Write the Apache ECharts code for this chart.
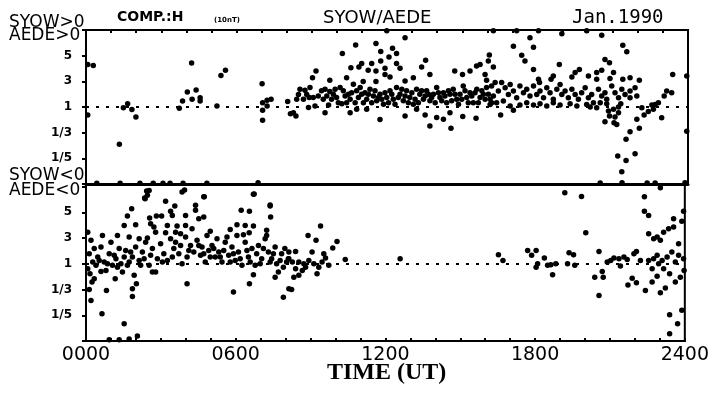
<!DOCTYPE html>
<html>
<head>
<meta charset="utf-8">
<script src="https://cdn.jsdelivr.net/npm/echarts@6/dist/echarts.min.js"></script>
<style>
  html, body { margin: 0; padding: 0; background: #fff; }
  #chart { width: 712px; height: 395px; }
</style>
</head>
<body>
<div id="chart"></div>
<script>
// y level of the ratio scale: 1 -> 0, 3 -> 1, 5 -> 2, 1/3 -> -1, 1/5 -> -2
var ratioLevels = [-2, -1, 0, 1, 2];
var ratioLabels = ['1/5', '1/3', '1', '3', '5'];
var hourLabels = ['0000', '0600', '1200', '1800', '2400'];

// SYOW>0, AEDE>0  [hour UT, ratio level]
var aboveZero = [
  [0.07,1.66],[0.29,1.62],[0.07,-0.31],[1.33,-1.45],[1.49,-0.03],[1.66,0.13],[1.83,-0.10],[1.99,-0.39],
  [3.72,-0.05],[3.85,0.23],[4.04,0.58],[4.23,0.30],[4.21,1.71],[4.39,0.66],[4.55,0.36],[4.55,0.23],
  [5.22,0.04],[5.38,1.23],[5.56,1.43],[7.02,0.91],[7.04,0.17],[7.04,-0.13],[7.04,-0.52],[7.22,0.26],
  [7.38,0.30],[7.22,0.04],[8.04,0.21],[8.15,-0.26],
  [12.72,2.70],[11.56,2.47],[10.75,2.42],[12.22,2.29],[11.75,2.16],[12.38,2.08],[10.22,2.08],[12.08,1.95],
  [13.54,1.82],[11.75,1.79],[12.38,1.69],[11.39,1.69],[10.99,1.69],[16.08,2.03],[16.04,1.79],[10.56,1.53],
  [10.88,1.56],[11.25,1.43],[11.56,1.40],[11.92,1.51],[12.52,1.51],[11.92,1.27],[13.38,1.56],[9.17,1.40],
  [13.71,1.27],[12.12,1.17],[13.05,1.14],[12.72,1.01],[9.72,1.04],[9.03,1.14],[10.39,1.14],[14.70,1.40],
  [15.01,1.27],[15.31,1.40],[15.57,1.60],[15.71,1.66],[15.91,1.27],[15.97,1.04],[11.56,0.99],[11.05,0.99],
  [8.53,0.69],[8.73,0.65],[8.93,0.76],[8.90,0.37],[8.40,0.30],[8.67,0.30],[9.06,0.37],[9.13,0.04],
  [9.39,0.63],[9.53,0.69],[9.72,0.60],[9.86,0.50],[9.99,0.37],[10.13,0.76],[10.26,0.63],[10.46,0.50],
  [10.53,0.30],[10.66,0.89],[10.79,0.63],[10.93,0.76],[10.99,0.50],[11.12,0.56],[11.19,0.30],[11.32,0.69],
  [11.46,0.43],[11.59,0.24],[11.72,0.50],[11.86,0.11],[11.99,0.37],[12.12,0.63],[12.25,0.30],[12.38,0.76],
  [12.52,0.50],[12.65,0.24],[12.78,0.63],[12.91,0.37],[13.05,0.11],[13.18,0.69],[13.31,0.50],[13.45,0.30],
  [13.58,0.63],[13.71,0.24],[13.85,0.50],[13.98,0.76],[14.11,0.37],[14.25,0.56],[14.38,0.17],[14.51,0.50],
  [14.64,0.69],[14.78,0.30],[14.91,0.50],[15.04,0.82],[15.18,0.37],[15.31,0.56],[15.44,0.17],[15.58,0.69],
  [15.71,0.37],[15.84,0.50],[15.97,0.76],[16.11,0.30],[16.24,0.43],
  [8.47,0.49],[8.80,0.49],[9.26,0.43],[9.46,0.30],[9.60,0.43],[9.79,0.30],[9.93,0.69],[10.06,0.17],
  [10.33,0.43],[10.39,0.17],[10.59,0.56],[10.73,0.17],[10.86,0.37],[11.06,0.17],[11.26,0.50],[11.39,0.17],
  [11.52,0.63],[11.66,0.37],[11.79,0.30],[11.92,0.56],[12.06,0.17],[12.19,0.50],[12.32,0.11],[12.45,0.37],
  [12.59,0.69],[12.72,0.43],[12.85,0.17],[12.99,0.56],[13.12,0.30],[13.25,0.17],[13.38,0.63],[13.52,0.43],
  [13.65,0.50],[13.78,0.37],[13.92,0.17],[14.05,0.56],[14.18,0.24],[14.31,0.43],[14.45,0.63],[14.58,0.24],
  [14.71,0.50],[14.85,0.11],[14.98,0.30],[15.11,0.63],[15.24,0.17],[15.38,0.43],[15.51,0.56],[15.64,0.17],
  [15.78,0.63],[15.91,0.30],[16.04,0.50],[16.17,0.17],
  [8.27,-0.22],[8.37,-0.35],[8.87,-0.02],[9.53,-0.22],[9.67,0.08],[10.53,-0.22],[10.79,-0.09],[11.19,-0.09],
  [11.72,-0.49],[12.72,-0.35],[13.18,-0.09],[13.52,-0.31],[13.71,-0.74],[13.98,-0.41],[14.25,-0.48],[14.51,-0.22],
  [14.55,-0.83],[15.02,-0.37],[15.55,-0.44],[10.20,0.13],
  [16.24,2.97],[17.17,2.97],[18.04,2.97],[18.97,2.85],[19.96,2.97],[20.56,2.80],[17.70,2.70],[11.99,2.97],
  [17.04,2.37],[17.84,2.33],[17.37,2.02],[17.50,1.79],[21.40,2.41],[21.56,2.15],[20.69,1.85],[20.87,1.72],
  [18.87,1.66],[16.24,1.56],[17.84,1.46],[19.67,1.46],[19.50,1.34],[20.36,1.34],[20.56,1.43],[21.03,1.34],
  [20.03,1.21],[19.37,1.17],[18.63,1.21],[18.54,1.08],[18.04,1.08],[18.08,0.95],[23.39,1.27],[23.95,1.21],
  [21.69,1.14],[21.40,1.08],[22.06,1.04],[20.89,1.11],[20.36,1.08],
  [16.17,0.82],[16.31,0.95],[16.44,0.62],[16.57,0.95],[16.71,0.75],[16.84,0.49],[16.91,0.88],[17.04,0.62],
  [17.17,0.36],[17.30,0.82],[17.44,0.56],[17.57,0.69],[17.70,0.43],[17.84,0.82],[17.97,0.49],[18.10,0.62],
  [18.24,0.36],[18.37,0.75],[18.50,0.56],[18.63,0.30],[18.77,0.69],[18.90,0.88],[18.97,0.49],[19.10,0.62],
  [19.23,0.36],[19.37,0.69],[19.50,0.49],[19.63,0.30],[19.76,0.56],[19.90,0.75],[20.03,0.36],[20.16,0.49],
  [20.23,0.17],[20.43,0.69],[20.56,0.43],[20.69,0.56],[20.76,0.30],[20.96,0.82],[21.09,0.56],[21.23,0.36],
  [21.36,0.69],[21.49,0.49],[21.69,0.62],[21.89,0.75],[21.96,0.43],[21.69,0.36],
  [16.11,0.10],[16.37,0.17],[16.64,0.23],[16.91,0.04],[17.30,0.08],[17.57,0.17],[17.84,0.08],[18.10,0.13],
  [18.37,0.04],[18.63,0.17],[18.90,0.08],[19.30,0.13],[19.57,0.04],[19.96,0.10],[20.10,0.00],[20.36,-0.03],
  [20.50,0.17],
  [16.53,-0.31],[17.04,-0.13],[20.76,0.13],[20.83,-0.16],[20.87,-0.35],[20.69,-0.57],[21.03,-0.09],[21.09,-0.39],
  [21.05,-0.61],[21.23,0.00],[21.23,-0.22],[21.16,-0.68],[21.32,0.13],[21.53,-1.26],[21.69,-0.96],[22.06,-0.83],
  [21.96,-0.48],[22.16,-0.03],[22.25,-0.31],[22.42,-0.18],[22.62,-0.09],[22.56,0.08],[22.69,0.10],[22.82,0.17],
  [22.95,-0.42],[23.05,0.43],[23.15,0.62],[23.35,0.56],[21.20,-1.91],[21.53,-2.08],[21.89,-1.82],[21.36,-2.52],
  [23.95,-0.94],
  [0.43,-2.97],[1.36,-2.97],[2.15,-2.97],[2.68,-2.97],[3.07,-2.97],[3.35,-2.97],[3.87,-2.97],[4.82,-2.97],
  [6.86,-2.95],[20.50,-2.96],[21.37,-2.95],[22.37,-2.96],[22.69,-2.96],[23.88,-2.95]
];

// SYOW<0, AEDE<0  [hour UT, ratio level]
var belowZero = [
  [2.53,2.85],[3.85,2.79],[2.46,2.66],[2.37,2.53],[3.19,2.43],[3.56,2.25],[4.39,2.27],[4.39,2.08],
  [4.72,2.60],[6.71,2.70],[6.22,2.08],[6.55,2.04],[7.38,2.25],[7.40,1.82],[1.83,2.14],[1.66,1.86],
  [2.55,1.78],[2.82,1.86],[3.03,1.86],[3.39,2.04],[3.46,1.88],[3.99,1.88],[4.52,1.75],[4.72,1.82],
  [1.53,1.49],[1.99,1.52],[2.59,1.56],[2.72,1.43],[3.26,1.49],[3.65,1.47],[3.99,1.49],[4.25,1.36],
  [4.98,1.26],[6.05,1.52],[6.38,1.49],[6.71,1.47],[5.78,1.33],[6.54,1.21],[7.24,1.30],
  [2.43,2.83],[2.35,2.56],[3.95,2.87],[4.74,2.60],[6.74,2.71],[7.38,2.28],
  [0.07,1.23],[0.20,0.91],[0.33,0.59],[0.13,0.39],[0.27,0.07],[0.07,-0.19],[0.47,0.26],[0.60,0.65],
  [0.66,1.10],[0.73,0.07],[0.80,-0.26],[0.93,0.39],[1.00,0.84],[1.06,-0.06],[1.20,0.20],[1.26,1.10],
  [1.33,0.59],[1.40,0.00],[1.46,-0.32],[1.53,0.26],[1.59,0.52],[1.73,0.07],[1.86,0.26],[1.99,0.65],
  [2.13,0.13],[2.26,0.46],[2.39,0.84],[2.53,-0.06],[2.66,0.59],[2.79,-0.32],[2.86,0.20],[2.99,0.78],
  [3.12,0.39],[3.26,0.13],[3.39,0.97],[3.52,0.59],[3.59,0.84],[3.72,0.39],[3.85,0.00],[3.99,1.04],
  [4.05,0.26],[4.19,0.71],[4.32,0.46],[4.45,0.91],[4.59,0.33],[4.65,0.65],[4.78,0.07],[4.92,0.52],
  [5.05,0.71],[5.18,0.26],[5.32,0.46],[5.45,0.07],[5.58,0.84],[5.72,0.33],[5.85,0.65],[5.98,0.13],
  [6.11,0.46],[6.25,-0.06],[6.38,0.84],[6.51,0.26],[6.65,0.59],[6.78,-0.06],[6.91,0.71],[7.04,0.20],
  [7.18,0.97],[7.31,0.46],[7.44,0.20],[7.58,0.65],[7.71,-0.32],[7.84,0.39],[7.97,0.59],[8.11,0.20],
  [4.85,1.10],[5.25,0.97],[5.65,1.04],[6.05,1.10],[6.31,1.13],[7.24,1.10],[1.73,1.04],[2.13,0.97],
  [2.46,1.00],[2.79,1.23],[3.19,1.21],[3.59,1.23],[3.79,1.17],
  [0.40,-0.06],[0.53,0.13],[0.86,0.00],[1.13,0.33],[1.26,-0.13],[1.66,-0.06],[1.79,0.46],[2.19,-0.06],
  [2.33,0.20],[2.59,0.33],[3.06,0.07],[3.46,0.26],[3.79,0.71],[4.12,0.52],[4.52,0.71],[4.72,0.39],
  [4.98,0.26],[5.12,0.59],[5.38,0.26],[5.52,0.52],[5.78,0.07],[5.91,0.39],[6.18,0.20],[6.45,0.52],
  [6.58,0.07],[6.84,0.39],[6.98,0.00],[7.11,0.59],[7.38,0.07],[7.51,0.39],[7.64,0.00],[7.78,0.13],
  [7.91,-0.13],[8.04,0.07],
  [0.16,-0.39],[0.33,-0.58],[0.24,-0.71],[0.13,-1.00],[0.20,-1.43],[0.82,-1.04],[0.64,-1.94],[1.53,-2.33],
  [2.06,-2.81],[1.86,-0.97],[1.86,-1.27],[2.02,-0.78],[1.93,-0.45],[4.05,-0.78],[5.91,-1.10],[6.55,-0.78],
  [6.71,-0.43],[7.91,-1.30],[8.13,-0.97],[7.58,-0.52],[1.17,-0.58],[0.60,-0.30],[2.66,-0.32],
  [1.73,-2.92],[1.33,-2.95],[0.93,-2.95],
  [8.13,0.46],[8.40,0.48],[8.13,0.20],[8.27,0.07],[8.40,-0.19],[8.53,-0.45],[8.33,-0.52],[8.67,-0.26],
  [8.80,-0.13],[8.90,1.10],[8.93,0.13],[9.06,0.46],[9.13,0.00],[9.22,0.91],[9.26,-0.39],[9.40,1.47],
  [9.46,0.07],[9.53,0.39],[9.60,0.22],[9.73,-0.06],[9.89,0.61],[10.06,0.87],[10.39,0.17],[8.24,-1.00],
  [12.59,0.20],[8.53,0.07],[8.73,0.00],[9.33,-0.13],
  [19.19,2.76],[19.86,2.61],[20.03,1.21],[22.38,2.60],[23.02,2.95],[22.38,2.04],[22.55,1.88],[23.55,1.75],
  [23.88,1.65],[23.55,1.43],[23.35,1.36],[23.15,1.23],[22.55,1.17],[22.75,0.97],[23.02,0.91],[22.89,1.04],
  [23.75,0.78],[23.95,2.04],[16.53,0.35],[16.71,0.13],[17.70,0.52],[17.86,0.33],[18.04,0.52],[18.10,0.00],
  [18.04,-0.13],[18.37,0.22],[18.50,-0.06],[18.63,-0.04],[18.83,0.00],[18.70,-0.43],[19.36,0.43],[19.54,0.35],
  [19.59,-0.06],[19.30,0.00],[20.56,0.48],[20.39,-0.52],[20.73,-0.52],[20.69,-0.30],[20.56,-1.23],[20.89,0.07],
  [21.03,0.13],[21.16,0.22],[21.36,0.20],[21.56,0.26],[21.69,0.17],[21.96,0.39],[22.06,0.48],[21.42,-0.09],
  [22.22,0.13],[21.72,-0.82],[21.89,-0.56],[22.06,-0.74],[22.42,-1.04],[22.55,0.13],[22.69,-0.19],[22.75,0.20],
  [22.89,0.33],[22.95,0.00],[23.09,0.13],[23.15,-0.19],[23.29,0.26],[23.48,0.46],[23.62,0.07],[23.75,0.33],
  [23.82,-0.52],[23.39,-0.39],[22.69,-0.71],[22.89,-0.48],[23.02,-1.13],[23.22,-0.94],[23.39,-1.98],[23.71,-2.33],
  [23.39,-2.72],[23.88,-1.81],[23.95,0.20],[23.97,-0.26],[23.62,-0.71]
];

var chart = echarts.init(document.getElementById('chart'));

var ink = '#000';
var plotterFont = '"DejaVu Sans"';

function ratioLabel(v) {
  var i = ratioLevels.indexOf(Math.round(v * 10) / 10);
  return i < 0 ? '' : ratioLabels[i];
}

var yCommon = {
  type: 'value',
  interval: 1,
  splitLine: { show: false },
  axisLine: { show: true, onZero: false, lineStyle: { color: ink, width: 2 } },
  axisTick: { show: true, length: 4, lineStyle: { color: ink, width: 2 } },
  axisLabel: {
    color: ink, fontSize: 12, fontWeight: 'bold', fontFamily: plotterFont, margin: 14,
    formatter: ratioLabel
  }
};

var zeroLine = {
  silent: true,
  symbol: ['none', 'none'],
  label: { show: false },
  lineStyle: { color: ink, type: [3, 7], width: 2, opacity: 1 },
  data: [{ yAxis: 0 }]
};

var dotStyle = { color: ink, opacity: 1 };

chart.setOption({
  animation: false,
  backgroundColor: '#fff',
  grid: [
    { left: 86, width: 602, top: 30, height: 154, show: true, borderColor: ink, borderWidth: 2 },
    { left: 86, width: 602, top: 184, height: 157, show: true, borderColor: ink, borderWidth: 2 }
  ],
  xAxis: [
    {
      gridIndex: 0, type: 'value', min: 0, max: 24, interval: 1, position: 'bottom',
      splitLine: { show: false },
      axisLine: { onZero: false, lineStyle: { color: ink, width: 3 } },
      axisTick: { show: false }, axisLabel: { show: false }
    },
    {
      gridIndex: 0, type: 'value', min: 0, max: 24, interval: 1, position: 'top',
      splitLine: { show: false },
      axisLine: { onZero: false, lineStyle: { color: ink, width: 2 } },
      axisTick: { inside: true, length: 3, lineStyle: { color: ink, width: 2 } },
      axisLabel: { show: false }
    },
    {
      gridIndex: 1, type: 'value', min: 0, max: 24, interval: 1, position: 'bottom',
      splitLine: { show: false },
      axisLine: { onZero: false, lineStyle: { color: ink, width: 2 } },
      axisTick: { inside: true, length: 3, lineStyle: { color: ink, width: 2 } },
      axisLabel: {
        color: ink, fontSize: 19, fontFamily: plotterFont, margin: 5,
        formatter: function (v) {
          return v % 6 === 0 ? hourLabels[v / 6] : '';
        }
      }
    }
  ],
  yAxis: [
    Object.assign({ gridIndex: 0, min: -3, max: 3 }, yCommon),
    Object.assign({ gridIndex: 1, min: -3, max: 3.1 }, yCommon)
  ],
  series: [
    {
      type: 'scatter', xAxisIndex: 0, yAxisIndex: 0,
      symbolSize: 5.5, itemStyle: dotStyle,
      data: aboveZero, markLine: zeroLine
    },
    {
      type: 'scatter', xAxisIndex: 2, yAxisIndex: 1,
      symbolSize: 5.5, itemStyle: dotStyle,
      data: belowZero, markLine: zeroLine
    }
  ],
  graphic: [
    { type: 'text', left: 9, top: 14, style: { text: 'SYOW>0', font: '17px ' + plotterFont, fill: ink } },
    { type: 'text', left: 9, top: 27, style: { text: 'AEDE>0', font: '17px ' + plotterFont, fill: ink } },
    { type: 'text', left: 9, top: 167, style: { text: 'SYOW<0', font: '17px ' + plotterFont, fill: ink } },
    { type: 'text', left: 9, top: 182, style: { text: 'AEDE<0', font: '17px ' + plotterFont, fill: ink } },
    { type: 'text', left: 117, top: 10, style: { text: 'COMP.:H', font: 'bold 14px ' + plotterFont, fill: ink } },
    { type: 'text', left: 214, top: 17, style: { text: '(10nT)', font: 'bold 7px ' + plotterFont, fill: ink } },
    { type: 'text', left: 323, top: 9, style: { text: 'SYOW/AEDE', font: '18px ' + plotterFont, fill: ink } },
    { type: 'text', left: 572, top: 9, style: { text: 'Jan.1990', font: '19px "DejaVu Sans Mono"', fill: ink } },
    { type: 'text', left: 327, top: 361, style: { text: 'TIME (UT)', font: 'bold 24px "Liberation Serif"', fill: ink } }
  ]
});
</script>
</body>
</html>
